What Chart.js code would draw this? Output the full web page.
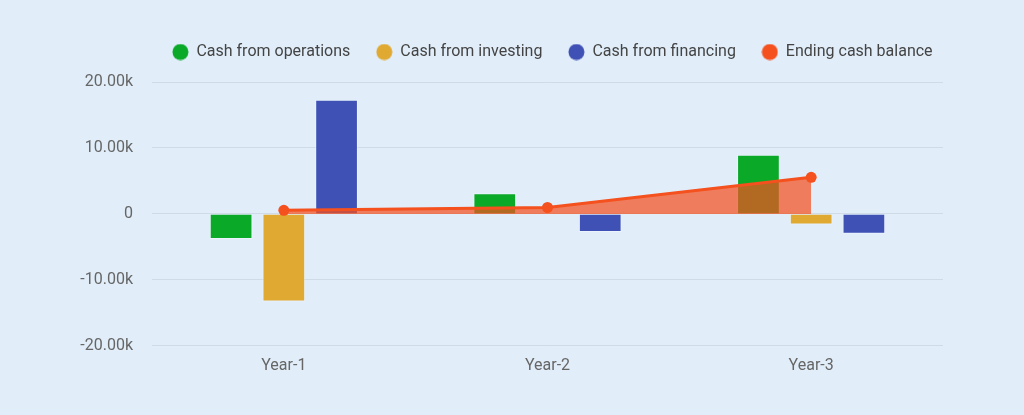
<!DOCTYPE html>
<html lang="en">
<head>
    <title>Cash flow</title>
    <script src="https://cdn.jsdelivr.net/npm/chart.js"></script>
    <style>
        html, body { margin: 0; padding: 0; background: #e1eefa; }
        #wrap { width: 1024px; height: 415px; }
    </style>
</head>
<body>
    <div id="wrap"><canvas id="cashChart"></canvas></div>

    <script>
        const years = ["Year-1", "Year-2", "Year-3"];
        const operations = [-3800, 3150, 8950];
        const investing = [-13300, null, -1600];
        const financing = [17300, -2750, -3000];
        const endingBalance = [550, 970, 5540];

        const seriesNames = ["Cash from operations", "Cash from investing", "Cash from financing", "Ending cash balance"];
        const seriesColors = ["#0aa928", "#e0a931", "#3f51b5", "#f4511e"];

        const font = { family: "Roboto", size: 16 };

        // small round legend markers
        function dot(color) {
            const c = document.createElement("canvas");
            c.width = 17; c.height = 17;
            const g = c.getContext("2d");
            g.fillStyle = color;
            g.beginPath();
            g.arc(8.5, 8.5, 8, 0, Math.PI * 2);
            g.fill();
            return c;
        }

        const legendTweak = {
            id: "legendTweak",
            beforeInit(chart) {
                const legend = chart.legend;
                const fit = legend.fit;
                legend.fit = function () {
                    fit.call(this);
                    this.height = 82;
                };
            },
            afterLayout(chart) {
                const legend = chart.legend;
                const dx = (chart.chartArea.left + chart.chartArea.right) / 2 - (legend.left + legend.right) / 2 + 5;
                legend.left += dx; legend.right += dx;
                legend.top += 18; legend.bottom += 18;
            }
        };

        new Chart(document.getElementById("cashChart"), {
            type: "bar",
            data: {
                labels: years,
                datasets: [
                    { label: seriesNames[0], data: operations, backgroundColor: seriesColors[0], borderColor: "rgba(255,255,255,0.35)", borderWidth: 1, order: 1 },
                    { label: seriesNames[1], data: investing, backgroundColor: seriesColors[1], borderColor: "rgba(255,255,255,0.35)", borderWidth: 1, order: 1 },
                    { label: seriesNames[2], data: financing, backgroundColor: seriesColors[2], borderColor: "rgba(255,255,255,0.35)", borderWidth: 1, order: 1 },
                    {
                        type: "line", label: seriesNames[3], data: endingBalance, order: 0,
                        borderColor: seriesColors[3], backgroundColor: "rgba(244,81,30,0.72)", borderWidth: 3,
                        pointRadius: 5.5, pointBackgroundColor: seriesColors[3], pointBorderWidth: 0,
                        fill: "origin", tension: 0
                    }
                ]
            },
            options: {
                responsive: true,
                maintainAspectRatio: false,
                animation: false,
                layout: { padding: { top: 0, right: 81, bottom: 36, left: 0 } },
                datasets: { bar: { categoryPercentage: 0.6, barPercentage: 0.81 } },
                plugins: {
                    tooltip: { enabled: false },
                    legend: {
                        position: "top",
                        labels: {
                            font: font, color: "#444", usePointStyle: true,
                            boxWidth: 16, boxHeight: 16, padding: 26,
                            generateLabels: chart => chart.data.datasets.map((ds, i) => ({
                                text: ds.label, datasetIndex: i, pointStyle: dot(seriesColors[i]),
                                fillStyle: seriesColors[i], strokeStyle: seriesColors[i], lineWidth: 0,
                                fontColor: "#444", hidden: false
                            }))
                        }
                    }
                },
                scales: {
                    x: {
                        grid: { display: false },
                        border: { display: false },
                        ticks: { font: font, color: "#666", padding: 3 }
                    },
                    y: {
                        min: -20000, max: 20000,
                        afterFit: s => { s.width = 152; },
                        grid: { color: "rgba(0,0,0,0.08)", drawTicks: false },
                        border: { display: false },
                        ticks: {
                            stepSize: 10000, font: font, color: "#666", padding: 19,
                            callback: v => v === 0 ? "0" : (v / 1000).toFixed(2) + "k"
                        }
                    }
                }
            },
            plugins: [legendTweak]
        });
    </script>
</body>
</html>
